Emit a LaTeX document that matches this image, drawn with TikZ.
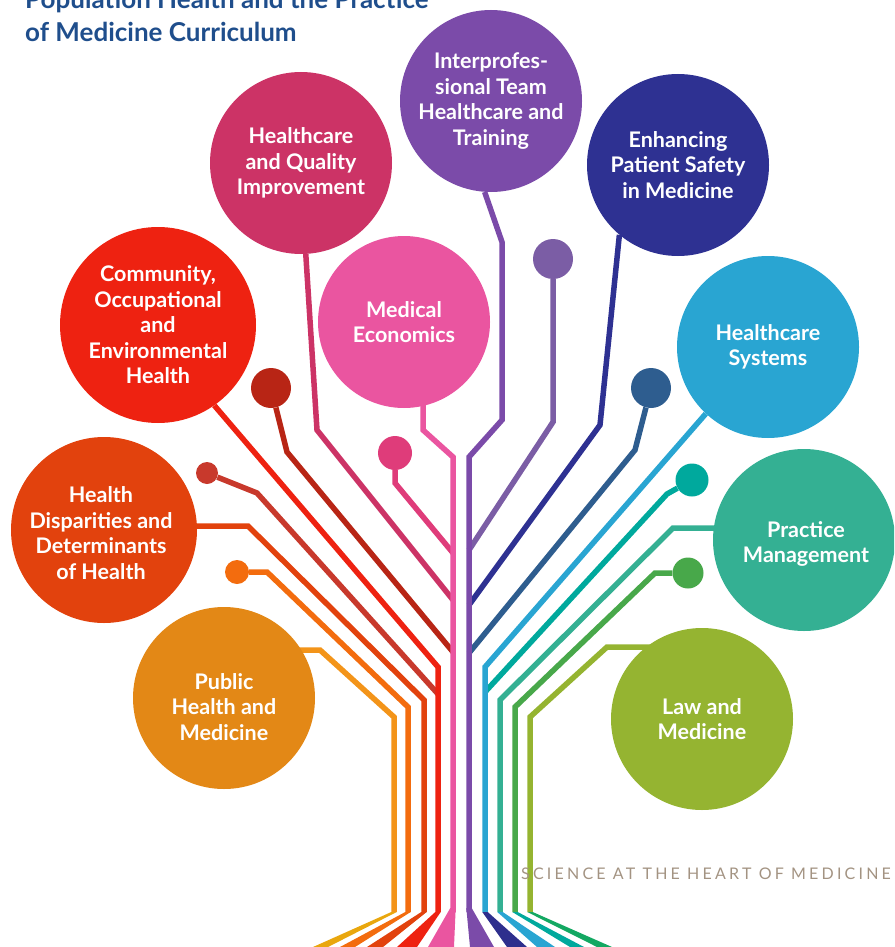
\documentclass[tikz,border=0pt]{standalone}
\usepackage{fontspec}
\setmainfont{Lato}
\newfontfamily\mottofont[LetterSpace=20]{Lato}
\usetikzlibrary{backgrounds}

\definecolor{cTitle}{HTML}{1F4E8C}
\definecolor{cMotto}{HTML}{A39382}
\definecolor{cInterprof}{HTML}{7B4BA9}
\definecolor{cSafety}{HTML}{2E3192}
\definecolor{cQuality}{HTML}{CC3366}
\definecolor{cEcon}{HTML}{EA55A0}
\definecolor{cCommunity}{HTML}{EE2211}
\definecolor{cSystems}{HTML}{29A5D2}
\definecolor{cDisparities}{HTML}{E2420D}
\definecolor{cPractice}{HTML}{34B093}
\definecolor{cPublic}{HTML}{E38816}
\definecolor{cPublicWire}{HTML}{F39419}
\definecolor{cLaw}{HTML}{95B431}
\definecolor{cMaroon}{HTML}{B82515}
\definecolor{cBrick}{HTML}{C8392C}
\definecolor{cTangerine}{HTML}{F36C0E}
\definecolor{cMagenta}{HTML}{DF3C7A}
\definecolor{cLavender}{HTML}{7B5DA5}
\definecolor{cSteel}{HTML}{2E5D8F}
\definecolor{cTeal}{HTML}{00A99D}
\definecolor{cGreen}{HTML}{48A84A}
\definecolor{cGold}{HTML}{E9A70E}
\definecolor{cNavy}{HTML}{2E2F8D}
\definecolor{cLeaf}{HTML}{13A862}

\begin{document}
\begin{tikzpicture}[
    x=1pt, y=-1pt,
    topictext/.style={text=white, align=center, font=\bfseries\fontsize{21.5}{25.5}\selectfont},
    topic/.style={circle, fill=#1, topictext, minimum size=182pt, inner sep=0pt},
    knob/.style={circle, fill=#1, inner sep=0pt},
    wire/.style={draw=#1, line width=5.5pt},
    root/.style={fill=#1}
]
\useasboundingbox (0,0) rectangle (894,947);
\clip (0,0) rectangle (894,947);

% Title
\node[anchor=north west, align=left, inner sep=0pt, text=cTitle, font=\bfseries\fontsize{26}{33}\selectfont] (title) at (25,-11) {Population Health and the Practice\\of Medicine Curriculum};

% Topics
\node[topic=cInterprof] (interprof) at (491,101) {Interprofes-\\sional Team\\Healthcare and\\Training};
\node[topic=cSafety] (safety) at (678,165) {Enhancing\\Patient Safety\\in Medicine};
\node[topic=cQuality] (quality) at (301,163) {Healthcare\\and Quality\\Improvement};
\node[topic=cEcon, minimum size=172pt] (econ) at (404,322) {Medical\\Economics};
\node[topic=cCommunity, minimum size=196pt] (community) at (158,325) {Community,\\Occupational\\and\\Environmental\\Health};
\node[topic=cSystems] (systems) at (768,347) {Healthcare\\Systems};
\node[topic=cDisparities, minimum size=186pt, label={[topictext, xshift=-3pt, yshift=-3pt]center:{Health\\Disparities and\\Determinants\\of Health}}] (disparities) at (104,530) {};
\node[topic=cPractice, label={[topictext, xshift=2pt, yshift=-4pt]center:{Practice\\Management}}] (practice) at (804,540) {};
\node[topic=cPublic, label={[topictext, yshift=-9pt]center:{Public\\Health and\\Medicine}}] (pubhealth) at (224,698) {};
\node[topic=cLaw] (law) at (702,719) {Law and\\Medicine};

% Knobs
\node[knob=cMaroon, minimum size=40pt] (maroon) at (271,388) {};
\node[knob=cBrick, minimum size=22pt] (brick) at (207,473) {};
\node[knob=cTangerine, minimum size=24pt] (tangerine) at (237,572) {};
\node[knob=cMagenta, minimum size=34pt] (magenta) at (395,453) {};
\node[knob=cLavender, minimum size=40pt] (lavender) at (553,259) {};
\node[knob=cSteel, minimum size=40pt] (steel) at (651,388) {};
\node[knob=cTeal, minimum size=33pt] (teal) at (692,480) {};
\node[knob=cGreen, minimum size=31pt] (green) at (688,573) {};

\begin{scope}[on background layer]
% Branches, left half
\draw[wire=cPublicWire] (pubhealth |- 320,650) -- (320,650) -- (394,717) -- (394,912);
\draw[wire=cTangerine] (tangerine) -- (267,572) -- (408,707) -- (408,912);
\draw[wire=cDisparities] (disparities |- 248,526) -- (248,526) -- (424,700) -- (424,912);
\draw[wire=cBrick] (brick) -- (257,493) -- (438,694);
\draw[wire=cCommunity] (community.-55) -- (438,667) -- (438,912);
\draw[wire=cMaroon] (maroon) -- (287,452) -- (453,652);
\draw[wire=cQuality] (quality.-87) -- (317,430) -- (453,600);
\draw[wire=cMagenta] (magenta) -- (395,483) -- (453,553);
\draw[wire=cEcon] (econ -| 423,430) -- (423,430) -- (453,457) -- (453,912);

% Branches, right half
\draw[wire=cLavender] (lavender) -- (553,422) -- (469,550);
\draw[wire=cSafety] (safety.-130) -- (600,425) -- (469,605);
\draw[wire=cSteel] (steel) -- (635,450) -- (469,653);
\draw[wire=cTeal] (teal) -- (667,494) -- (485,692);
\draw[wire=cPractice] (practice |- 673,528) -- (673,528) -- (500,700) -- (500,912);
\draw[wire=cGreen] (green) -- (655,573) -- (515,707) -- (515,912);
\draw[wire=cLaw] (law |- 607,647) -- (607,647) -- (530,717) -- (530,912);
\draw[wire=cSystems] (systems.-133) -- (485,667) -- (485,912);
\draw[wire=cInterprof] (interprof.-94) -- (502,242) -- (502,420) -- (469,457) -- (469,912);

% Roots
\fill[root=cGold] (391.3,912) -- (396.7,912) -- (328,947) -- (313,947) -- cycle;
\fill[root=cTangerine] (405.3,912) -- (410.7,912) -- (355,947) -- (340,947) -- cycle;
\fill[root=cDisparities] (421.3,912) -- (426.7,912) -- (383,947) -- (367,947) -- cycle;
\fill[root=cCommunity] (435.3,912) -- (440.7,912) -- (417,947) -- (397,947) -- cycle;
\fill[root=cEcon] (450.3,908) -- (455.7,908) -- (454,947) -- (428,947) -- cycle;
\fill[root=cInterprof] (466.3,908) -- (471.7,908) -- (494,947) -- (470,947) -- cycle;
\fill[root=cNavy] (482.3,912) -- (487.7,912) -- (527,947) -- (507,947) -- cycle;
\fill[root=cSystems] (497.3,912) -- (502.7,912) -- (555,947) -- (537,947) -- cycle;
\fill[root=cTeal] (512.3,912) -- (517.7,912) -- (584,947) -- (570,947) -- cycle;
\fill[root=cLeaf] (527.3,912) -- (532.7,912) -- (612,947) -- (597,947) -- cycle;
\end{scope}

% Motto
\node[anchor=base west, inner sep=0pt, text=cMotto, font=\mottofont\fontsize{16}{19}\selectfont] (motto) at (521,879) {SCIENCE AT THE HEART OF MEDICINE};

\end{tikzpicture}
\end{document}
